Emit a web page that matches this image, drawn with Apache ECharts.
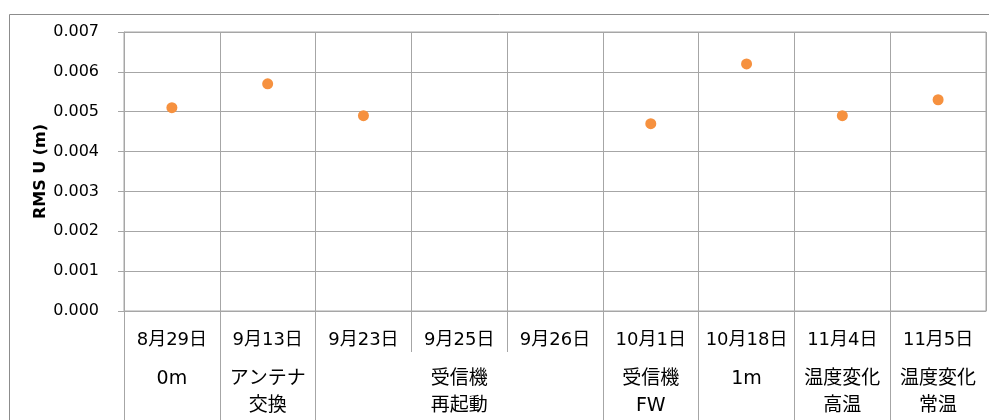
<!DOCTYPE html>
<html>
<head>
<meta charset="utf-8">
<script src="https://cdn.jsdelivr.net/npm/echarts@6/dist/echarts.min.js"></script>
<style>
  html, body { margin: 0; padding: 0; background: #fff; }
  #chart { width: 989px; height: 420px; }
</style>
</head>
<body>
<div id="chart"></div>
<script>
// Measurement dates (first row of the category axis)
const dates = ['8月29日', '9月13日', '9月23日', '9月25日', '9月26日', '10月1日', '10月18日', '11月4日', '11月5日'];
// RMS of the U component in metres (no value on 9/25 and 9/26)
const rmsU = [0.0051, 0.0057, 0.0049, null, null, 0.0047, 0.0062, 0.0049, 0.0053];
// Condition groups (second row of the category axis) and how many dates each spans
const groups = ['0m', 'アンテナ\n交換', '受信機\n再起動', '受信機\nFW', '1m', '温度変化\n高温', '温度変化\n常温'];
const groupSpans = [1, 1, 3, 1, 1, 1, 1];
// Value axis ticks
const yTicks = { min: 0, max: 0.007, step: 0.001 };

// Group boundaries and centres in "category units"
const groupStarts = [];
const groupCenters = [];
let acc = 0;
groupSpans.forEach(function (s) {
  groupStarts.push(acc);
  groupCenters.push(acc + s / 2);
  acc += s;
});
const dateBounds = dates.map(function (d, i) { return i; });

const FONT = '"DejaVu Sans", "Noto Sans CJK JP", sans-serif';
const GRID = '#a6a6a6';

const chart = echarts.init(document.getElementById('chart'), null, { renderer: 'canvas' });

chart.setOption({
  animation: false,
  backgroundColor: '#fff',
  textStyle: { fontFamily: FONT },
  graphic: [{
    type: 'rect',
    left: 7, top: 12,
    shape: { width: 1200, height: 600 },
    style: { fill: 'none', stroke: '#8c8c8c', lineWidth: 1 },
    silent: true, z: -1
  }],
  grid: {
    left: 124, top: 32, right: 3, bottom: 109,
    show: true, borderColor: GRID, borderWidth: 1, backgroundColor: 'transparent'
  },
  xAxis: [{
    type: 'category',
    data: dates,
    boundaryGap: true,
    axisLine: { show: true, lineStyle: { color: GRID, width: 1 } },
    axisTick: { show: false },
    splitLine: { show: true, lineStyle: { color: GRID, width: 1 } },
    axisLabel: {
      interval: 0, margin: 29, verticalAlign: 'middle',
      fontSize: 18, color: '#000', fontFamily: FONT
    }
  }, {
    // separators between individual dates in the label band
    type: 'value', min: 0, max: dates.length,
    position: 'bottom',
    axisLine: { show: false },
    splitLine: { show: false },
    axisLabel: { show: false },
    axisTick: {
      show: true, length: 41, customValues: dateBounds,
      lineStyle: { color: GRID, width: 1 }
    }
  }, {
    // condition groups and their separators
    type: 'value', min: 0, max: dates.length,
    position: 'bottom',
    axisLine: { show: false },
    splitLine: { show: false },
    axisTick: {
      show: true, length: 109, customValues: groupStarts,
      lineStyle: { color: GRID, width: 1 }
    },
    axisLabel: {
      show: true, customValues: groupCenters,
      margin: 55, verticalAlign: 'top', align: 'center',
      fontSize: 19, lineHeight: 27, color: '#000', fontFamily: FONT,
      formatter: function (v) {
        const i = groupCenters.indexOf(v);
        return i >= 0 ? groups[i] : '';
      }
    }
  }],
  yAxis: {
    type: 'value',
    min: yTicks.min, max: yTicks.max, interval: yTicks.step,
    name: 'RMS U (m)',
    nameLocation: 'middle',
    nameGap: 75,
    nameMoveOverlap: false,
    nameTextStyle: { fontSize: 16, fontWeight: 'bold', color: '#000', fontFamily: FONT },
    axisLine: { show: true, lineStyle: { color: GRID, width: 1 } },
    axisTick: { show: true, length: 6, lineStyle: { color: GRID, width: 1 } },
    splitLine: { show: true, lineStyle: { color: GRID, width: 1 } },
    axisLabel: {
      margin: 25, fontSize: 16, color: '#000', fontFamily: FONT,
      formatter: function (v) { return v.toFixed(3); }
    }
  },
  series: [{
    type: 'scatter',
    xAxisIndex: 0,
    data: rmsU,
    symbol: 'circle',
    symbolSize: 11,
    itemStyle: { color: '#F6913F', opacity: 1 }
  }]
});
</script>
</body>
</html>
